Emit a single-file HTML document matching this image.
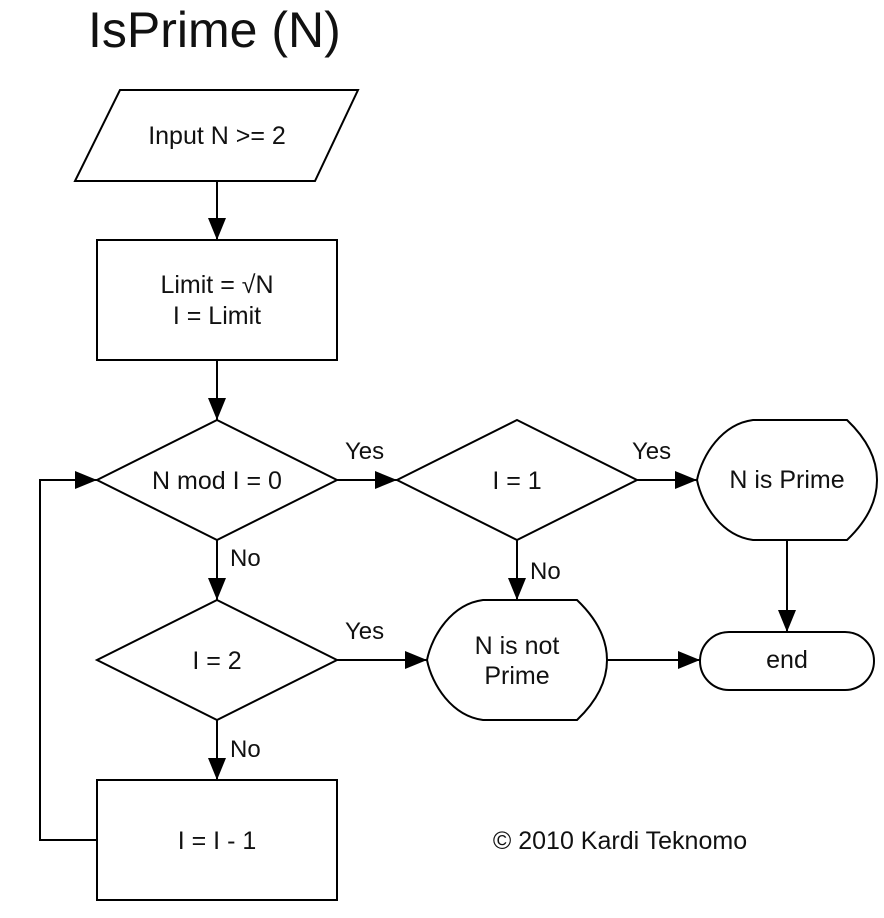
<!DOCTYPE html>
<html><head><meta charset="utf-8"><style>
html,body{margin:0;padding:0;background:#fff;}
svg{display:block;}
text{font-family:"Liberation Sans",Arial,sans-serif;fill:#111;}
</style></head><body>
<svg width="884" height="918" viewBox="0 0 884 918" xmlns="http://www.w3.org/2000/svg">
<defs>
<marker id="a" markerWidth="22" markerHeight="18" refX="22" refY="9" orient="auto" markerUnits="userSpaceOnUse">
<path d="M0,0 L22,9 L0,18 Z" fill="#000"/>
</marker>
</defs>
<rect width="884" height="918" fill="#fff"/>
<text x="88" y="47" font-size="50">IsPrime (N)</text>
<g fill="none" stroke="#000" stroke-width="2">
<polygon points="120,90 358,90 315,181 75,181"/>
<rect x="97" y="240" width="240" height="120"/>
<polygon points="217,420 337,480 217,540 97,480"/>
<polygon points="517,420 637,480 517,540 397,480"/>
<polygon points="217,600 337,660 217,720 97,660"/>
<rect x="97" y="780" width="240" height="120"/>
<path d="M753,420 C722,424 702,455 697,480 C702,505 722,536 753,540 L847,540 C868,520 877,500 877,480 C877,460 868,440 847,420 Z"/>
<path d="M483,600 C452,604 432,635 427,660 C432,685 452,716 483,720 L577,720 C598,700 607,680 607,660 C607,640 598,620 577,600 Z"/>
<rect x="700" y="632" width="174" height="58" rx="29"/>
<line x1="217" y1="181" x2="217" y2="240" marker-end="url(#a)"/>
<line x1="217" y1="360" x2="217" y2="420" marker-end="url(#a)"/>
<line x1="337" y1="480" x2="397" y2="480" marker-end="url(#a)"/>
<line x1="637" y1="480" x2="697" y2="480" marker-end="url(#a)"/>
<line x1="787" y1="540" x2="787" y2="632" marker-end="url(#a)"/>
<line x1="217" y1="540" x2="217" y2="600" marker-end="url(#a)"/>
<line x1="517" y1="540" x2="517" y2="600" marker-end="url(#a)"/>
<line x1="337" y1="660" x2="427" y2="660" marker-end="url(#a)"/>
<line x1="607" y1="660" x2="700" y2="660" marker-end="url(#a)"/>
<line x1="217" y1="720" x2="217" y2="780" marker-end="url(#a)"/>
<polyline points="97,840 40,840 40,480 97,480" marker-end="url(#a)"/>
</g>
<g font-size="25" text-anchor="middle">
<text x="217" y="144">Input N &gt;= 2</text>
<text x="217" y="293">Limit = √N</text>
<text x="217" y="324">I = Limit</text>
<text x="217" y="489">N mod I = 0</text>
<text x="517" y="489">I = 1</text>
<text x="787" y="488">N is Prime</text>
<text x="217" y="669">I = 2</text>
<text x="517" y="654">N is not</text>
<text x="517" y="684">Prime</text>
<text x="787" y="668">end</text>
<text x="217" y="849">I = I - 1</text>
<text x="620" y="849">© 2010 Kardi Teknomo</text>
</g>
<g font-size="24">
<text x="345" y="459">Yes</text>
<text x="632" y="459">Yes</text>
<text x="345" y="639">Yes</text>
<text x="230" y="566">No</text>
<text x="530" y="579">No</text>
<text x="230" y="757">No</text>
</g>
</svg>
</body></html>
